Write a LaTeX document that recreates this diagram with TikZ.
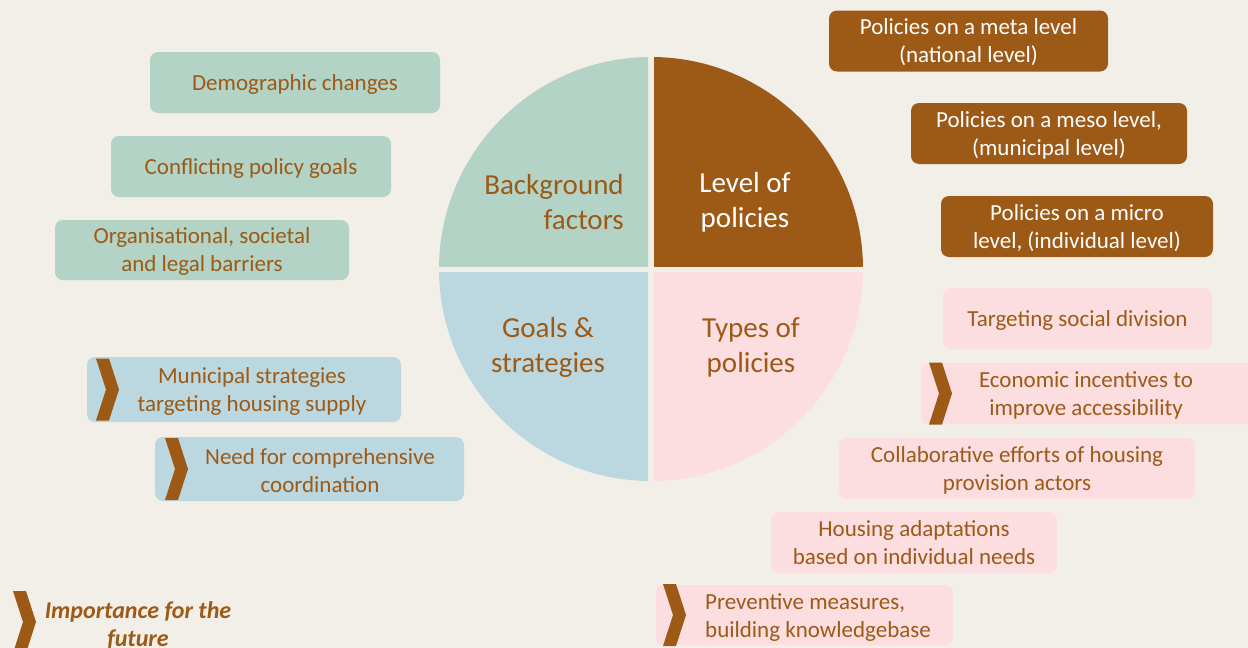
\documentclass[tikz,border=0pt]{standalone}
\usepackage{fontspec}
\setmainfont{Carlito}
\definecolor{bgcol}{RGB}{242,239,232}
\definecolor{browncol}{RGB}{156,90,22}
\definecolor{greencol}{RGB}{178,211,197}
\definecolor{bluecol}{RGB}{187,216,224}
\definecolor{pinkcol}{RGB}{252,222,225}
\tikzset{
  box/.style={rounded corners=8pt, minimum height=61pt, inner sep=0pt, text depth=0pt,
    align=center, text=browncol, font=\fontsize{23}{28}\selectfont},
  boxtext/.style={inner sep=0pt, text depth=0pt, align=center, text=browncol,
    font=\fontsize{23}{28}\selectfont},
  quarter/.style={inner sep=0pt, font=\fontsize{29}{35}\selectfont},
  pics/chevron/.style={code={
    \fill[browncol] (0,-31) -- (13,-31) -- (23,0) -- (13,31) -- (0,31) -- (10,0) -- cycle;}}
}

\begin{document}
\begin{tikzpicture}[x=1pt, y=-1pt]
      \fill[bgcol] (0,0) rectangle (1248,648);
      \useasboundingbox (0,0) rectangle (1248,648);
      \coordinate (c) at (651,269);
      % the four quarters
      \begin{scope}
        \clip (c) ++(-3,-3) rectangle ++(-220,-220);
        \fill[greencol] (c) circle (212);
      \end{scope}
      \begin{scope}
        \clip (c) ++(3,-3) rectangle ++(220,-220);
        \fill[browncol] (c) circle (212);
      \end{scope}
      \begin{scope}
        \clip (c) ++(-3,3) rectangle ++(-220,220);
        \fill[bluecol] (c) circle (212);
      \end{scope}
      \begin{scope}
        \clip (c) ++(3,3) rectangle ++(220,220);
        \fill[pinkcol] (c) circle (212);
      \end{scope}
      \node[quarter, text=browncol, align=right] (bg) at (554,202) {Background\\factors};
      \node[quarter, text=white, align=center] (lvl) at (745,202) {Level of\\policies};
      \node[quarter, text=browncol, align=center] (goals) at (548,347) {Goals \&\\strategies};
      \node[quarter, text=browncol, align=center] (types) at (751,347) {Types of\\policies};

      % background factors
      \node[box, fill=greencol, minimum width=290] (demo) at (295,82.5) {Demographic changes};
      \node[box, fill=greencol, minimum width=280] (confl) at (251,166.5) {Conflicting policy goals};
      \node[box, fill=greencol, minimum width=294, minimum height=60] (barr) at (202,250) {Organisational, societal\\and legal barriers};

      % level of policies
      \node[box, fill=browncol, text=white, minimum width=279] (meta) at (968.5,41) {Policies on a meta level\\(national level)};
      \node[box, fill=browncol, text=white, minimum width=276] (meso) at (1049,133.5) {Policies on a meso level,\\(municipal level)};
      \node[box, fill=browncol, text=white, minimum width=272] (micro) at (1077,226.5) {Policies on a micro\\level, (individual level)};

      % types of policies
      \node[box, fill=pinkcol, minimum width=269] (social) at (1077.5,318.5) {Targeting social division};
      \node[box, fill=pinkcol, minimum width=337] (econ) at (1089.5,393.5) {};
      \node[boxtext] at (1086,394) {Economic incentives to\\improve accessibility};
      \pic at (929,393.5) {chevron};
      \node[box, fill=pinkcol, minimum width=356] (collab) at (1017,468.5) {Collaborative efforts of housing\\provision actors};
      \node[box, fill=pinkcol, minimum width=286] (adapt) at (914,542.5) {Housing adaptations\\based on individual needs};
      \node[box, fill=pinkcol, minimum width=297, minimum height=60] (prev) at (804.5,615) {};
      \node[boxtext, align=left, anchor=west] at (705,616) {Preventive measures,\\building knowledgebase};
      \pic at (663,615) {chevron};

      % goals & strategies
      \node[box, fill=bluecol, minimum width=314, minimum height=65] (supply) at (244,389.5) {};
      \node[boxtext] at (252,390) {Municipal strategies\\targeting housing supply};
      \pic at (96,389.5) {chevron};
      \node[box, fill=bluecol, minimum width=309, minimum height=64] (coord) at (309.5,469) {};
      \node[boxtext] at (320,471) {Need for comprehensive\\coordination};
      \pic at (165,469) {chevron};

      % legend
      \pic at (13,622) {chevron};
      \node[boxtext, font=\fontsize{24}{28}\selectfont\bfseries\itshape] (legend) at (138,624) {Importance for the\\future};
\end{tikzpicture}
\end{document}
